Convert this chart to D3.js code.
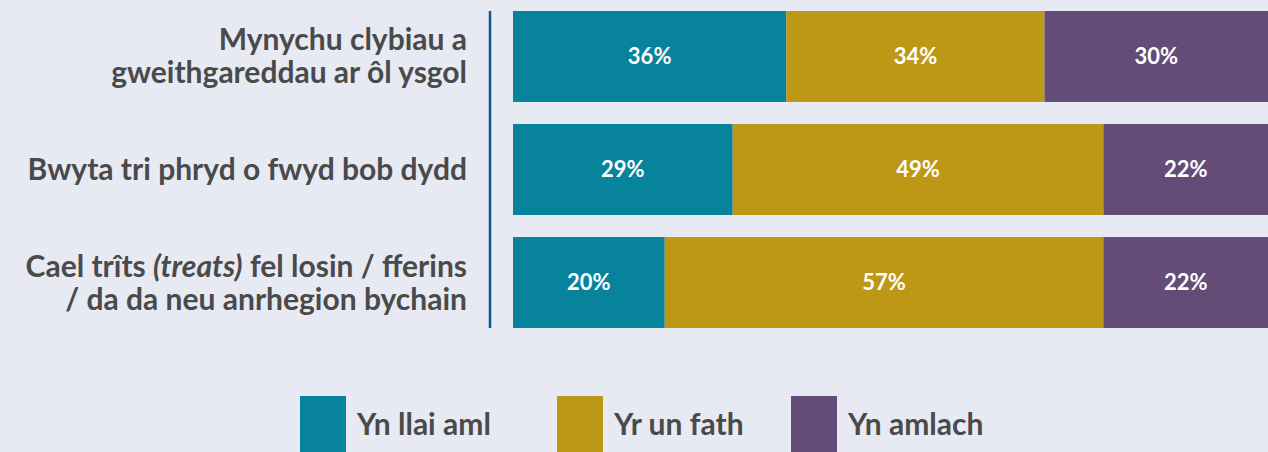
<!DOCTYPE html>
<html>
<head>
<meta charset="utf-8">
<script src="https://cdn.jsdelivr.net/npm/d3@7"></script>
<style>
  html, body { margin: 0; padding: 0; background: #e7e9f3; }
  svg { display: block; }
  text { font-family: Lato, "Open Sans", sans-serif; }
</style>
</head>
<body>
<svg id="chart" width="1268" height="452"></svg>
<script>
// ---- data ----
const categories = ["row1", "row2", "row3"];
const categoryLines = [
  [["Mynychu clybiau a"], ["gweithgareddau ar ôl ysgol"]],
  [["Bwyta tri phryd o fwyd bob dydd"]],
  [["Cael trîts ", "(treats)", " fel losin / fferins"], ["/ da da neu anrhegion bychain"]]
];
const seriesNames = ["Yn llai aml", "Yr un fath", "Yn amlach"];
const lessOften = [36.2, 29.1, 20.1];
const same = [34.2, 49.1, 58.1];
const moreOften = [29.6, 21.8, 21.8];
const lessOftenLabels = ["36%", "29%", "20%"];
const sameLabels = ["34%", "49%", "57%"];
const moreOftenLabels = ["30%", "22%", "22%"];
const colors = ["#07839b", "#bd9817", "#634c78"];

const seriesValues = [lessOften, same, moreOften];
const seriesLabels = [lessOftenLabels, sameLabels, moreOftenLabels];

const svg = d3.select("#chart");
const x = d3.scaleLinear().domain([0, 100]).range([513, 1268]);
const y = d3.scaleBand().domain(categories).range([11, 328]).paddingInner(0.195).paddingOuter(0);

// stacked rows
const rows = categories.map((c, i) => {
  const o = { cat: c };
  seriesNames.forEach((s, j) => { o[s] = seriesValues[j][i]; });
  return o;
});
const stack = d3.stack().keys(seriesNames)(rows);

const g = svg.append("g");
stack.forEach((layer, j) => {
  const lg = g.append("g").attr("fill", colors[j]);
  lg.selectAll("rect").data(layer).join("rect")
    .attr("x", d => x(d[0]))
    .attr("width", d => x(d[1]) - x(d[0]))
    .attr("y", (d, i) => y(categories[i]))
    .attr("height", y.bandwidth());
  g.append("g").selectAll("text").data(layer).join("text")
    .attr("x", d => (x(d[0]) + x(d[1])) / 2)
    .attr("y", (d, i) => y(categories[i]) + y.bandwidth() / 2)
    .attr("dy", "0.35em")
    .attr("text-anchor", "middle")
    .attr("fill", "#ffffff")
    .attr("font-weight", 700)
    .attr("font-size", 22)
    .text((d, i) => seriesLabels[j][i]);
});

// axis line
const axis = d3.axisLeft(y).tickSize(0).tickFormat("");
const ag = svg.append("g").attr("transform", "translate(490,0)").call(axis);
ag.select(".domain").attr("stroke", "#0b5a8f").attr("stroke-width", 2.5)
  .attr("d", `M0,${y.range()[0]}V${y.range()[1]}`);

// category labels
const lineH = 33;
categories.forEach((c, i) => {
  const lines = categoryLines[i];
  const cy = y(c) + y.bandwidth() / 2;
  const t = svg.append("text")
    .attr("text-anchor", "end")
    .attr("fill", "#4a4a4a")
    .attr("font-weight", 700)
    .attr("font-size", 30);
  lines.forEach((parts, k) => {
    const yy = cy + (k - (lines.length - 1) / 2) * lineH;
    parts.forEach((p, m) => {
      const ts = t.append("tspan").text(p);
      if (m === 0) ts.attr("x", 467).attr("y", yy).attr("dy", "0.35em");
      if (p.startsWith("(")) ts.attr("font-style", "italic");
    });
  });
});

// legend
const legendX = [300, 557, 791];
const lg = svg.append("g");
seriesNames.forEach((s, j) => {
  lg.append("rect").attr("x", legendX[j]).attr("y", 396).attr("width", 46).attr("height", 60).attr("fill", colors[j]);
  lg.append("text").attr("x", legendX[j] + 57).attr("y", 424).attr("dy", "0.35em")
    .attr("fill", "#4a4a4a").attr("font-weight", 700).attr("font-size", 30).text(s);
});
</script>
</body>
</html>
